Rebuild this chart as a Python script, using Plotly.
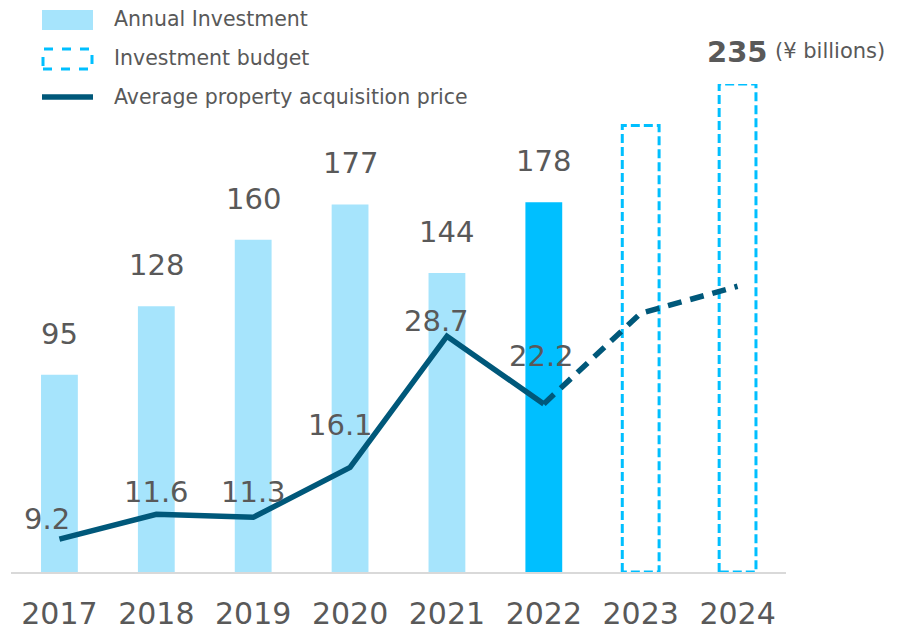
import plotly.graph_objects as go

years = ["2017", "2018", "2019", "2020", "2021", "2022", "2023", "2024"]
investment = [95, 128, 160, 177, 144, 178]
budget_years = ["2023", "2024"]
budget = [215, 235]
avg_price = [9.2, 11.6, 11.3, 16.1, 28.7, 22.2]
avg_price_plan = [22.2, 30.9, 33.5]

GRAY = "#595959"
LIGHT = "#A6E4FC"
BRIGHT = "#00BFFF"
DARK = "#00587A"
FONT = "DejaVu Sans"

idx = {y: i for i, y in enumerate(years)}
W = 0.19  # half bar width

# page has an 8px body margin; figure placed so that plot matches target
OFF = 8
ML, MR, MT, MB = 11 - OFF, 111, 84 - OFF, 58
FW, FH = 897 - OFF, 630 - OFF
PW = FW - ML - MR
PH = FH - MT - MB


def px(xp):
    return (xp - OFF - ML) / PW


def py(yp):
    return (FH - MB - (yp - OFF)) / PH


fig = go.Figure()

bar_colors = [LIGHT] * 5 + [BRIGHT]
fig.add_trace(go.Bar(
    x=[idx[y] for y in years[:6]], y=investment, width=2 * W,
    marker=dict(color=bar_colors, line=dict(width=0)),
    yaxis="y", showlegend=False, hoverinfo="skip"))

# budget dashed outlines
for y, v in zip(budget_years, budget):
    i = idx[y]
    fig.add_trace(go.Scatter(
        x=[i - W, i - W, i + W, i + W, i - W], y=[0, v, v, 0, 0],
        mode="lines", line=dict(color=BRIGHT, width=3, dash="9px,4px"),
        yaxis="y", showlegend=False, hoverinfo="skip"))

# line
fig.add_trace(go.Scatter(
    x=[idx[y] for y in years[:6]], y=avg_price, mode="lines",
    line=dict(color=DARK, width=5.5), yaxis="y2", showlegend=False, hoverinfo="skip"))
fig.add_trace(go.Scatter(
    x=[idx[y] for y in years[5:]], y=avg_price_plan, mode="lines",
    line=dict(color=DARK, width=5.5, dash="14px,9px"), yaxis="y2", showlegend=False, hoverinfo="skip"))

annotations = []
for i, v in enumerate(investment):
    annotations.append(dict(x=i, y=v, xref="x", yref="y", text=str(v), showarrow=False,
                            yshift=41, font=dict(family=FONT, size=29, color=GRAY)))
shifts = [(-12, 20), (0, 22), (0, 25), (-10, 42), (-10, 15), (-2, 48)]
for i, v in enumerate(avg_price):
    dx, dy = shifts[i]
    annotations.append(dict(x=i, y=v, xref="x", yref="y2", text=f"{v:.1f}", showarrow=False,
                            xshift=dx, yshift=dy, font=dict(family=FONT, size=29, color=GRAY)))

# total label and unit near top
annotations.append(dict(x=idx["2024"], y=budget[1], xref="x", yref="y",
                        text="<b>235</b>", showarrow=False, yshift=32,
                        font=dict(family=FONT, size=29, color=GRAY)))
annotations.append(dict(x=px(773), y=py(51), xref="paper", yref="paper", xanchor="left", yanchor="middle",
                        text="(¥ billions)", showarrow=False,
                        font=dict(family=FONT, size=21, color=GRAY)))

# custom legend
legend_items = ["Annual Investment", "Investment budget", "Average property acquisition price"]
legend_y = [19, 58, 97]
shapes = []
shapes.append(dict(type="rect", xref="paper", yref="paper", x0=px(42), x1=px(93),
                   y0=py(30), y1=py(10), fillcolor=LIGHT, line=dict(width=0)))
shapes.append(dict(type="rect", xref="paper", yref="paper", x0=px(43), x1=px(92),
                   y0=py(69), y1=py(49), fillcolor="rgba(0,0,0,0)",
                   line=dict(color=BRIGHT, width=3, dash="dash")))
shapes.append(dict(type="line", xref="paper", yref="paper", x0=px(42), x1=px(93),
                   y0=py(97), y1=py(97), line=dict(color=DARK, width=5.5)))
for t, yy in zip(legend_items, legend_y):
    annotations.append(dict(x=px(112), y=py(yy), xref="paper", yref="paper",
                            xanchor="left", yanchor="middle", text=t, showarrow=False,
                            font=dict(family=FONT, size=20.5, color=GRAY)))

fig.update_layout(
    width=FW, height=FH,
    margin=dict(l=ML, r=MR, t=MT, b=MB),
    paper_bgcolor="white", plot_bgcolor="white",
    xaxis=dict(range=[-0.5, 7.5], tickvals=list(range(len(years))), ticktext=years,
               showgrid=False, zeroline=False, showline=True, linecolor="#D9D9D9", linewidth=2,
               ticks="outside", ticklen=14, tickcolor="rgba(0,0,0,0)", automargin=False,
               tickfont=dict(family=FONT, size=30, color=GRAY)),
    yaxis=dict(range=[0, 235], visible=False, showgrid=False, zeroline=False),
    yaxis2=dict(range=[6.05, 52.93], overlaying="y", visible=False, showgrid=False, zeroline=False),
    annotations=annotations, shapes=shapes,
)

fig.write_html("out.html")
